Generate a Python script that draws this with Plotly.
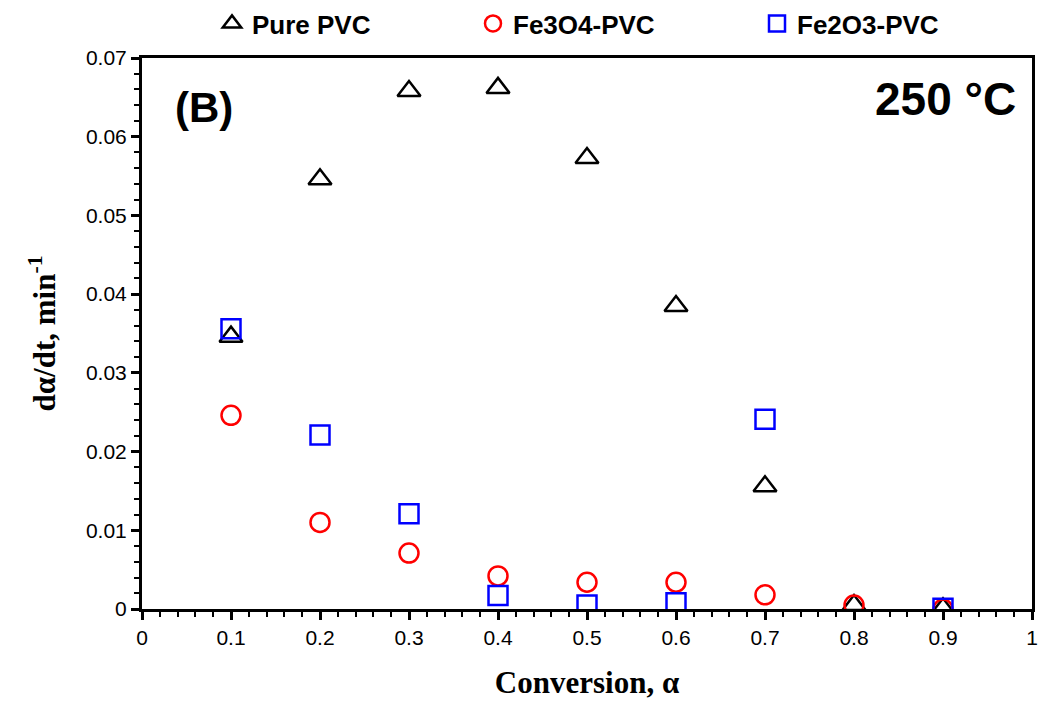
import plotly.graph_objects as go

conversion = [0.1, 0.2, 0.3, 0.4, 0.5, 0.6, 0.7, 0.8, 0.9]
pure_pvc = [0.0346, 0.0546, 0.0658, 0.0662, 0.0573, 0.0385, 0.0156, 0.0005, 0.0001]
fe3o4_pvc = [0.0246, 0.0110, 0.0071, 0.0042, 0.0034, 0.0034, 0.0018, 0.0005, 0.0000]
fe2o3_pvc = [0.0356, 0.0221, 0.0121, 0.0017, 0.0005, 0.0008, 0.0241, None, 0.0001]

W = 1041
fig = go.Figure()
fig.add_trace(go.Scatter(x=conversion, y=pure_pvc, mode="markers", name="Pure PVC", legend="legend",
                         marker=dict(symbol="triangle-up-open", size=20, color="black",
                                     line=dict(width=2.5, color="black"))))
fig.add_trace(go.Scatter(x=conversion, y=fe3o4_pvc, mode="markers", name="Fe3O4-PVC", legend="legend2",
                         marker=dict(symbol="circle-open", size=19, color="red",
                                     line=dict(width=2.5, color="red"))))
fig.add_trace(go.Scatter(x=conversion, y=fe2o3_pvc, mode="markers", name="Fe2O3-PVC", legend="legend3",
                         marker=dict(symbol="square-open", size=19, color="blue",
                                     line=dict(width=2.5, color="blue"))))

legfont = dict(family="Arial", size=26, color="black", weight="bold")
def leg(xpx):
    return dict(orientation="h", x=xpx / W, xanchor="left", y=1.0, yanchor="top",
                xref="container", yref="container", font=legfont, itemsizing="trace",
                bgcolor="rgba(0,0,0,0)", borderwidth=0)

fig.update_layout(
    width=1041, height=704,
    margin=dict(l=142, r=9, t=58, b=95, autoexpand=False),
    plot_bgcolor="white", paper_bgcolor="white",
    showlegend=True,
    legend=leg(212), legend2=leg(473), legend3=leg(757),
    xaxis=dict(range=[0, 1], dtick=0.1, showgrid=False, zeroline=False,
               showline=True, linecolor="black", linewidth=3, mirror=True,
               ticks="outside", ticklen=8, tickwidth=3, tickcolor="black",
               minor=dict(dtick=0.02, ticks="outside", ticklen=5, tickwidth=2, tickcolor="black"),
               tickfont=dict(family="Arial", size=21, color="black"),
               title=dict(text="Conversion, α", font=dict(family="Liberation Serif", size=31, color="black", weight="bold"),
                          standoff=24)),
    yaxis=dict(range=[0, 0.07], dtick=0.01, showgrid=False, zeroline=False,
               showline=True, linecolor="black", linewidth=3, mirror=True,
               ticks="outside", ticklen=8, tickwidth=3, tickcolor="black",
               minor=dict(dtick=0.002, ticks="outside", ticklen=5, tickwidth=2, tickcolor="black"),
               tickfont=dict(family="Arial", size=21, color="black"),
               title=dict(text="dα/dt, min<sup>-1</sup>", font=dict(family="Liberation Serif", size=31, color="black", weight="bold"),
                          standoff=22)),
    annotations=[
        dict(text="(B)", x=0.035, y=0.911, xref="paper", yref="paper", xanchor="left", yanchor="middle",
             showarrow=False, font=dict(family="Arial", size=42, color="black", weight="bold")),
        dict(text="250 °C", x=0.984, y=0.925, xref="paper", yref="paper", xanchor="right", yanchor="middle",
             showarrow=False, font=dict(family="Arial", size=46, color="black", weight="bold")),
    ],
)

fig.write_html("out.html")
